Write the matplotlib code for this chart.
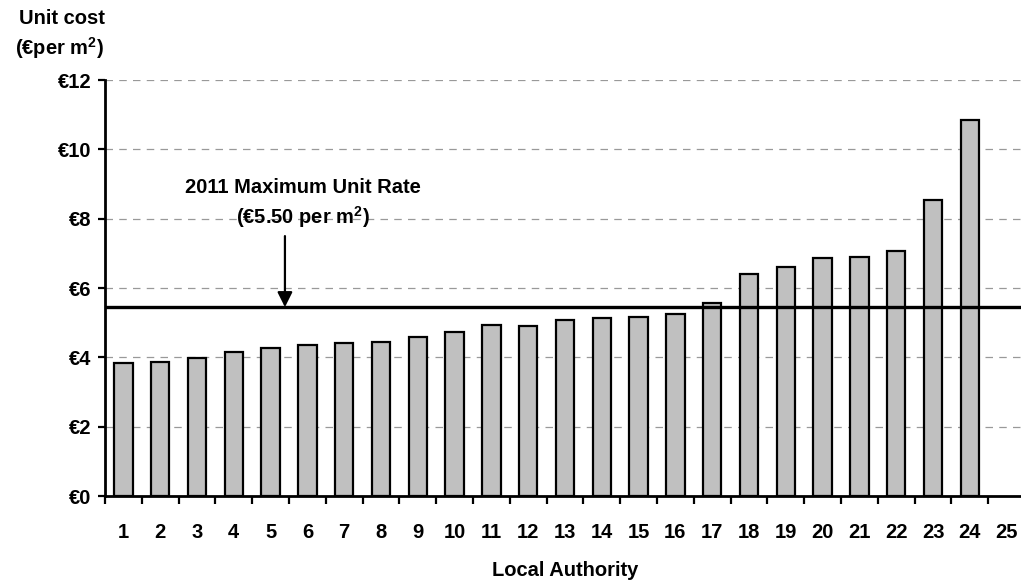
import matplotlib.pyplot as plt
import numpy as np

plt.rcParams['font.family'] = ['Liberation Sans', 'DejaVu Sans']
plt.rcParams['font.weight'] = 'bold'
plt.rcParams['mathtext.fontset'] = 'custom'
plt.rcParams['mathtext.rm'] = 'Liberation Sans'
plt.rcParams['mathtext.bf'] = 'Liberation Sans:bold'

# Unit cost per local authority (euro per m2)
authorities = list(range(1, 26))
unit_cost = [3.83, 3.87, 3.99, 4.15, 4.27, 4.37, 4.41, 4.44, 4.58, 4.74, 4.93, 4.92,
             5.08, 5.14, 5.16, 5.24, 5.58, 6.40, 6.61, 6.86, 6.90, 7.06, 8.54, 10.85]
y_ticks = [0, 2, 4, 6, 8, 10, 12]
y_labels = ['€0', '€2', '€4', '€6', '€8', '€10', '€12']
max_rate = 5.45

fs = 14.5

fig = plt.figure(figsize=(10.21, 5.83), dpi=100)
ax = fig.add_axes([0.1028, 0.149, 0.9012, 0.7137])

x = np.arange(1, len(unit_cost) + 1)
ax.bar(x, unit_cost, width=0.5, color='#c0c0c0', edgecolor='black', linewidth=1.6, zorder=3)

# max unit rate line
ax.axhline(max_rate, color='black', linewidth=2.4, zorder=4)

ax.set_xlim(0.5, 25.5)
ax.set_ylim(0, 12)

ax.set_yticks(y_ticks)
ax.set_yticklabels(y_labels, fontsize=fs, fontweight='bold')
ax.grid(axis='y', color='#999999', linestyle=(0, (6, 5)), linewidth=0.9, zorder=0)

ax.set_xticks(authorities)
ax.set_xticklabels([str(a) for a in authorities], fontsize=fs, fontweight='bold')
ax.set_xticks(np.arange(0.5, 26, 1), minor=True)
ax.tick_params(axis='x', which='major', length=0, pad=19)
ax.tick_params(axis='x', which='minor', length=6, width=1.6, direction='out')
ax.tick_params(axis='y', length=5, width=1.6, direction='out', pad=5)

for s in ['top', 'right']:
    ax.spines[s].set_visible(False)
for s in ['left', 'bottom']:
    ax.spines[s].set_linewidth(2)

ax.set_xlabel('Local Authority', fontsize=fs, fontweight='bold', labelpad=14)

fig.text(0.061, 0.969, 'Unit cost', ha='center', va='center', fontsize=fs, fontweight='bold')
fig.text(0.058, 0.917, r'(€per m$^{\mathbf{2}}$)', ha='center', va='center', fontsize=fs, fontweight='bold')

ax.annotate('', xy=(5.39, max_rate), xytext=(5.39, 7.5),
            arrowprops=dict(arrowstyle='-|>,head_length=0.9,head_width=0.45',
                            color='black', linewidth=1.6, shrinkA=0, shrinkB=0), zorder=5)
ax.text(5.88, 8.91, '2011 Maximum Unit Rate', ha='center', va='center',
        fontsize=fs, fontweight='bold')
ax.text(5.88, 8.05, r'(€5.50 per m$^{\mathbf{2}}$)', ha='center', va='center',
        fontsize=fs, fontweight='bold')

fig.savefig('out.png', dpi=100)
